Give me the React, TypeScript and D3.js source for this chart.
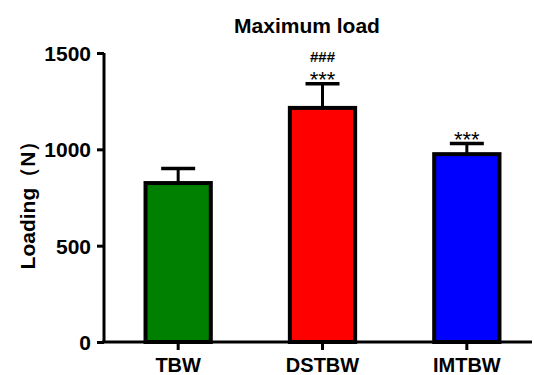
import React, { useEffect, useRef } from 'react';
import * as d3 from 'd3';

const groups = ['TBW', 'DSTBW', 'IMTBW'];
const means = [825, 1215, 975];
const sds = [75, 125, 55];
const colors = ['#008000', '#ff0000', '#0000ff'];
const marks = [[], ['###', '***'], ['***']];
const yTicks = [0, 500, 1000, 1500];

const App = () => {
  const svgRef = useRef<SVGSVGElement>(null);

  useEffect(() => {
    const svg = d3.select(svgRef.current);
    svg.selectAll('*').remove();
    const font = 'Liberation Sans, Arial, sans-serif';

    const x = d3.scaleBand().domain(groups).range([106, 539]).paddingInner(0.52).paddingOuter(0.26);
    const y = d3.scaleLinear().domain([0, 1500]).range([342, 53]);

    svg.append('text')
      .attr('x', 307).attr('y', 33)
      .attr('text-anchor', 'middle')
      .attr('font-family', font).attr('font-weight', 'bold').attr('font-size', 21)
      .text('Maximum load');

    const g = svg.append('g');

    // error bars first so the bar outline sits on top
    groups.forEach((k, i) => {
      const cx = x(k)! + x.bandwidth() / 2;
      g.append('line')
        .attr('x1', cx).attr('x2', cx)
        .attr('y1', y(means[i])).attr('y2', y(means[i] + sds[i]))
        .attr('stroke', '#000').attr('stroke-width', 3);
      g.append('line')
        .attr('x1', cx - 17).attr('x2', cx + 17)
        .attr('y1', y(means[i] + sds[i])).attr('y2', y(means[i] + sds[i]))
        .attr('stroke', '#000').attr('stroke-width', 3.5);
    });

    g.selectAll('rect.bar')
      .data(groups)
      .enter()
      .append('rect')
      .attr('class', 'bar')
      .attr('x', (d) => x(d)! + 2)
      .attr('width', x.bandwidth() - 4)
      .attr('y', (d, i) => y(means[i]))
      .attr('height', (d, i) => y(0) - y(means[i]))
      .attr('fill', (d, i) => colors[i])
      .attr('stroke', '#000')
      .attr('stroke-width', 4);

    // significance marks above the error cap
    groups.forEach((k, i) => {
      const cx = x(k)! + x.bandwidth() / 2;
      const top = y(means[i] + sds[i]);
      marks[i].forEach((s) => {
        const isStar = s === '***';
        g.append('text')
          .attr('x', cx)
          .attr('y', isStar ? top + 3 : top - 22)
          .attr('text-anchor', 'middle')
          .attr('font-family', font).attr('font-size', isStar ? 22 : 15)
          .attr('font-weight', isStar ? 'normal' : 'bold')
          .text(s);
      });
    });

    // y axis
    const ya = svg.append('g').attr('transform', 'translate(104,0)')
      .call(d3.axisLeft(y).tickValues(yTicks).tickSize(7).tickSizeOuter(0).tickFormat(d3.format('d')));
    ya.select('.domain').attr('stroke-width', 3).attr('d', `M0,${y(1500)}V${y(0)}`);
    ya.selectAll('.tick line').attr('stroke-width', 3);
    ya.selectAll('.tick text')
      .attr('font-family', font).attr('font-weight', 'bold').attr('font-size', 21)
      .attr('fill', '#000').attr('x', -13).attr('dy', '0.35em');

    // x axis
    const xa = svg.append('g').attr('transform', `translate(0,${y(0)})`)
      .call(d3.axisBottom(x).tickSize(8).tickSizeOuter(0));
    xa.select('.domain').attr('stroke-width', 3).attr('d', 'M102,0H532');
    xa.selectAll('.tick line').attr('stroke-width', 3);
    xa.selectAll('.tick text')
      .attr('font-family', font).attr('font-weight', 'bold').attr('font-size', 20)
      .attr('fill', '#000').attr('y', 30).attr('dy', 0);

    svg.append('text')
      .attr('transform', 'translate(35,200) rotate(-90)')
      .attr('text-anchor', 'middle')
      .attr('font-family', font).attr('font-weight', 'bold').attr('font-size', 21)
      .text('Loading（N）');
  }, []);

  return (
    <svg ref={svgRef} width={534} height={375} style={{ position: 'absolute', left: 0, top: 0 }}></svg>
  );
};

export default App;
